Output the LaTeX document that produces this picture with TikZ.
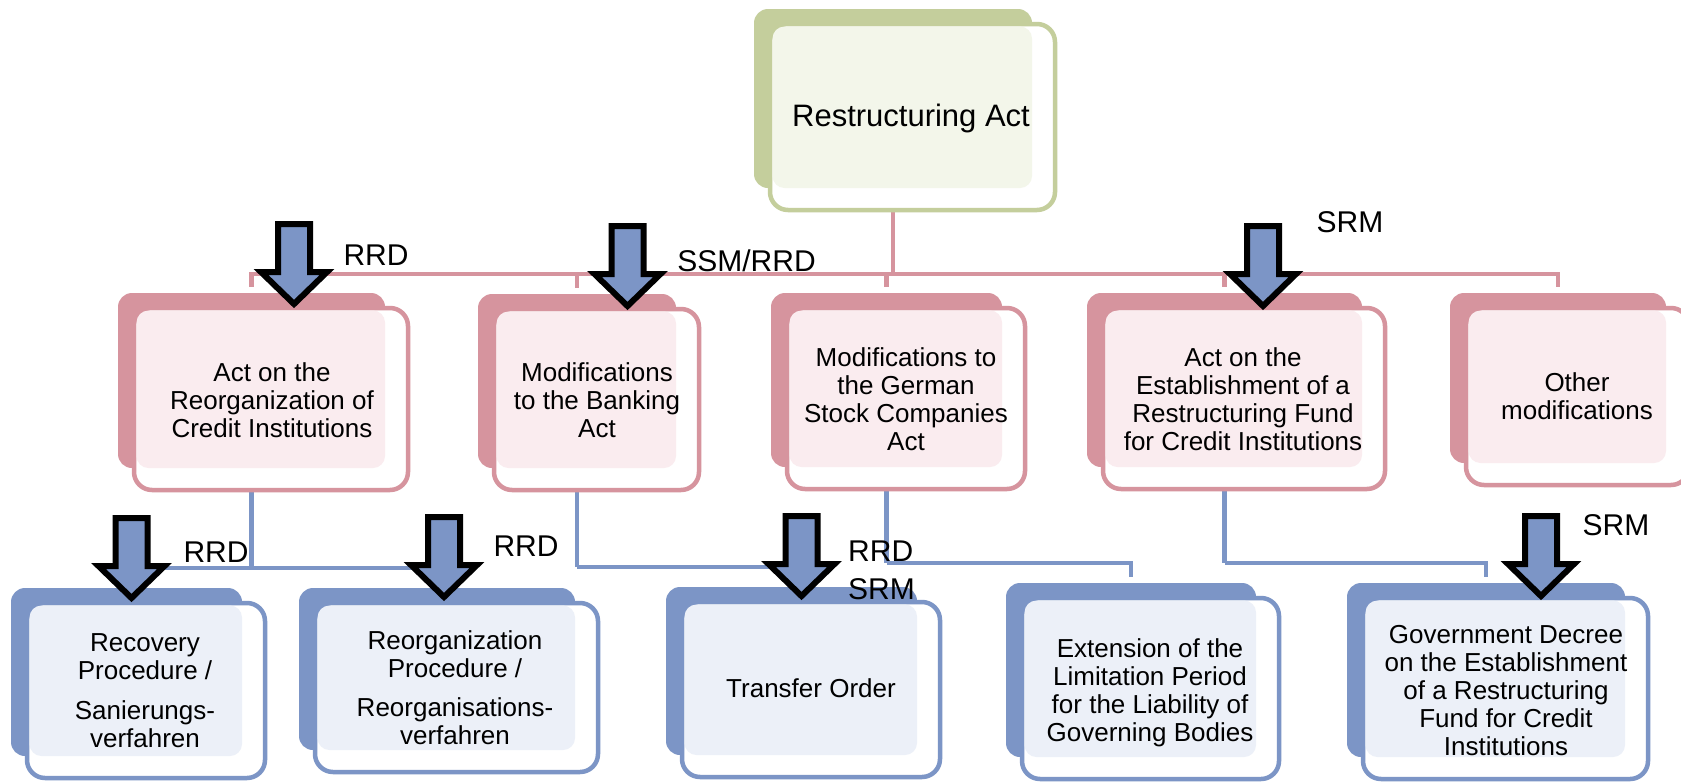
\documentclass[tikz,border=0pt]{standalone}
\usepackage{fontspec}
\setmainfont{Liberation Sans}
\usetikzlibrary{backgrounds}
\definecolor{pinkc}{RGB}{214,148,158}
\definecolor{greenc}{RGB}{196,206,156}
\definecolor{bluec}{RGB}{124,149,198}
\definecolor{pinkt}{RGB}{250,236,239}
\definecolor{greent}{RGB}{243,246,234}
\definecolor{bluet}{RGB}{236,240,248}
\tikzset{
 backbox/.style={rounded corners=14pt, inner sep=0pt, draw=none},
 frontbox/.style={rounded corners=18pt, inner sep=0pt, fill=white, line width=4.5pt},
 pinkline/.style={draw=pinkc, line width=4.5pt},
 blueline/.style={draw=bluec, line width=4.5pt},
 blockarrow/.style={draw=black, fill=bluec, line width=6pt, line join=miter},
 boxtext/.style={font=\fontsize{26}{28}\selectfont, align=center, inner sep=0pt, anchor=north},
 lbl/.style={font=\fontsize{30}{38}\selectfont, inner sep=0pt},
}
% name, colour, tint, x1, y1, x2, y2 (back shape)
\newcommand{\grp}[7]{%
 \node[backbox, fill=#2, minimum width={#6-#4}, minimum height={#7-#5}] (#1b) at ({(#4+#6)/2},{(#5+#7)/2}) {};
 \node[frontbox, draw=#2, minimum width={#6-#4+7}, minimum height={#7-#5+7}] (#1) at ({(#4+#6)/2+19.5},{(#5+#7)/2+18.5}) {};
 \fill[#3, rounded corners=12pt] ({#4+18.5},{#5+17.5}) rectangle ({#6},{#7});
}
% centre x, outer top y
\newcommand{\barrow}[2]{%
 \draw[blockarrow] ({#1-16},{#2+3}) -- ({#1+16},{#2+3}) -- ({#1+16},{#2+51}) -- ({#1+33},{#2+51}) -- ({#1},{#2+83}) -- ({#1-33},{#2+51}) -- ({#1-16},{#2+51}) -- cycle;
}
\begin{document}
\begin{tikzpicture}[x=1pt,y=-1pt]
\useasboundingbox (0,0) rectangle (1681,782);
\begin{pgfonlayer}{background}
\fill[white] (0,0) rectangle (1681,782);
\end{pgfonlayer}

% boxes
\grp{top}{greenc}{greent}{754}{9}{1032}{188}
\grp{a}{pinkc}{pinkt}{118}{293}{385}{468}
\grp{b}{pinkc}{pinkt}{478}{294}{676}{468}
\grp{c}{pinkc}{pinkt}{771}{293}{1002}{467}
\grp{d}{pinkc}{pinkt}{1087}{293}{1362}{467}
\grp{e}{pinkc}{pinkt}{1450}{293}{1666}{463}
\grp{rec}{bluec}{bluet}{11}{588}{242}{756}
\grp{reo}{bluec}{bluet}{299}{588}{575}{750}
\grp{tra}{bluec}{bluet}{666}{587}{917}{755}
\grp{ext}{bluec}{bluet}{1006}{583}{1256}{757}
\grp{gov}{bluec}{bluet}{1347}{583}{1625}{757}

% connectors
\begin{pgfonlayer}{background}
\coordinate (phub) at (893,274);
\draw[pinkline] (topb.south) -- (phub);
\foreach \n in {ab,bb,cb,db,eb} \draw[pinkline, shorten <=6pt] (\n.north) |- (phub);
\coordinate (ahub) at (251.5,568);
\draw[blueline] (ab.south) -- (ahub);
\draw[blueline, shorten <=4pt] (recb.north) |- (ahub);
\draw[blueline, shorten <=4pt] (reob.north) |- (ahub);
\coordinate (bhub) at (577,567);
\draw[blueline] (bb.south) -- (bhub);
\draw[blueline, shorten <=4pt] (trab.north) |- (bhub);
\coordinate (chub) at (886.5,563);
\draw[blueline] (cb.south) -- (chub);
\draw[blueline, shorten <=6pt] (extb.north) |- (chub);
\coordinate (dhub) at (1224.5,563);
\draw[blueline] (db.south) -- (dhub);
\draw[blueline, shorten <=6pt] (govb.north) |- (dhub);
\end{pgfonlayer}

% texts
\node[boxtext, font=\fontsize{31}{34}\selectfont] (ttop) at (911,104) {Restructuring Act};
\node[boxtext] (ta) at (272,362.5) {Act on the\\Reorganization of\\Credit Institutions};
\node[boxtext] (tb) at (597,362.5) {Modifications\\to the Banking\\Act};
\node[boxtext] (tc) at (906,347) {Modifications to\\the German\\Stock Companies\\Act};
\node[boxtext] (td) at (1243,347.5) {Act on the\\Establishment of a\\Restructuring Fund\\for Credit Institutions};
\node[boxtext] (te) at (1577,372.5) {Other\\modifications};
\node[boxtext] (trec) at (145,633.5) {Recovery\\Procedure /\\[12pt]Sanierungs-\\verfahren};
\node[boxtext] (treo) at (455,630.5) {Reorganization\\Procedure /\\[11pt]Reorganisations-\\verfahren};
\node[boxtext] (ttra) at (811,678.5) {Transfer Order};
\node[boxtext] (text) at (1150,638.5) {Extension of the\\Limitation Period\\for the Liability of\\Governing Bodies};
\node[boxtext] (tgov) at (1506,625.5) {Government Decree\\on the Establishment\\of a Restructuring\\Fund for Credit\\Institutions};

% block arrows
\barrow{294}{221}
\barrow{627.5}{223}
\barrow{1263}{223}
\barrow{131.5}{515}
\barrow{444}{514}
\barrow{801.5}{513}
\barrow{1541}{513}

% labels
\node[lbl, anchor=base] (l1) at (376,265) {RRD};
\node[lbl, anchor=base] (l2) at (746.5,271) {SSM/RRD};
\node[lbl, anchor=base] (l3) at (1350,232) {SRM};
\node[lbl, anchor=base] (l4) at (216,562) {RRD};
\node[lbl, anchor=base] (l5) at (526,556) {RRD};
\node[lbl, anchor=north west, align=left] (l6) at (848,540.5) {RRD\\SRM};
\node[lbl, anchor=base] (l7) at (1616,535) {SRM};
\end{tikzpicture}
\end{document}
